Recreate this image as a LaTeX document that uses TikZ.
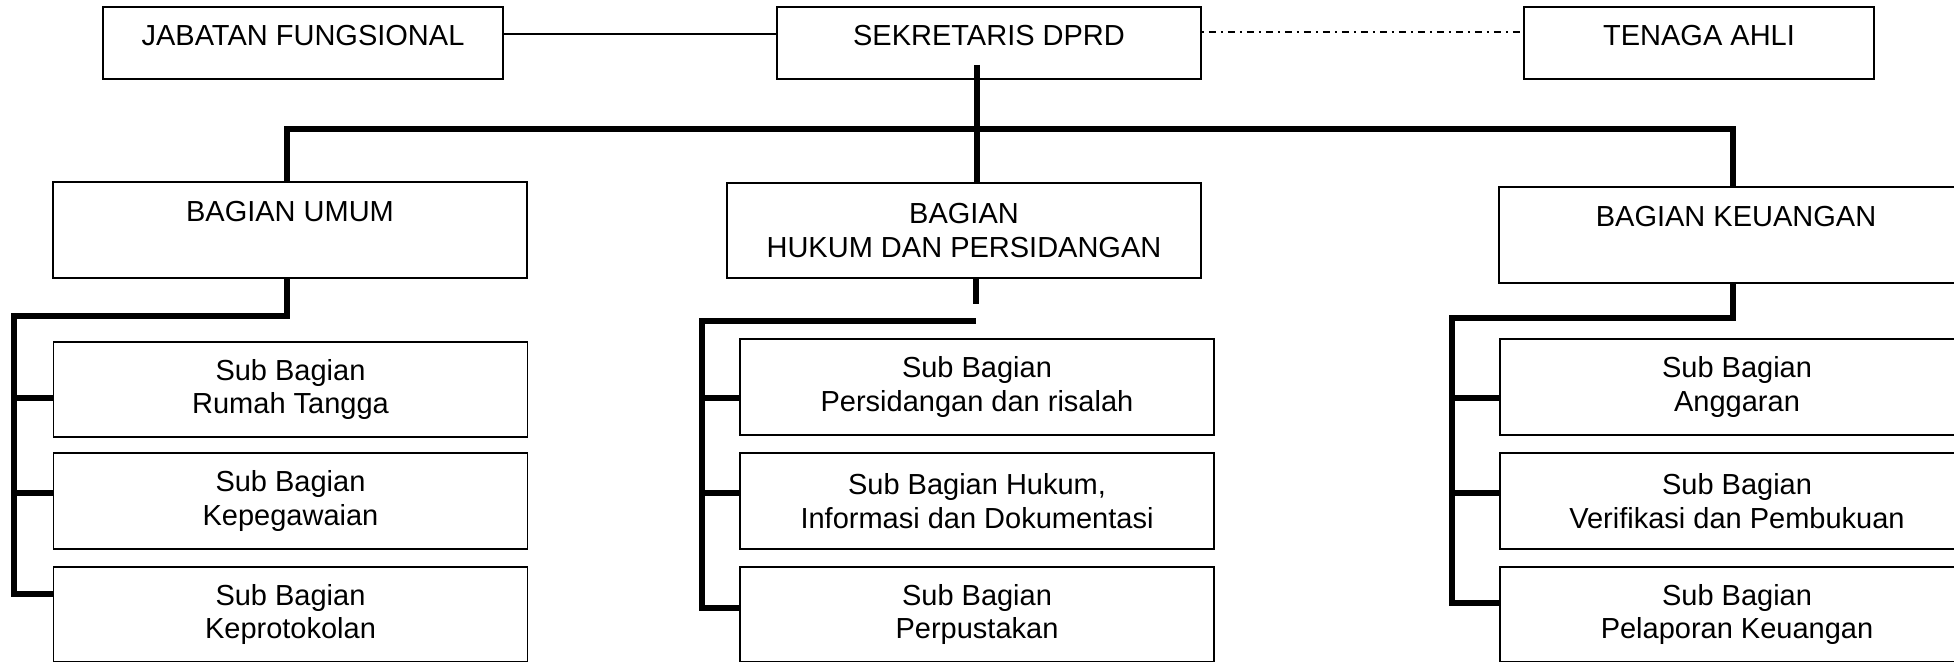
\documentclass[tikz,border=0pt]{standalone}
\usepackage{fontspec}
\setmainfont{Liberation Sans}
\usetikzlibrary{calc}
\begin{document}
\begin{tikzpicture}[x=0.5pt,y=-0.5pt,
  box/.style={draw, line width=0.8pt, inner sep=0pt, align=center,
    font=\fontsize{14.5}{16.8}\selectfont},
  topbox/.style={box, text height=19pt, text depth=17pt},
  headbox/.style={box, minimum width=237pt, text height=19.75pt, text depth=28.25pt},
  subbox/.style={box, minimum width=237pt, minimum height=47.75pt},
  conn/.style={line width=0.65pt},
  dashdotline/.style={line width=0.65pt, dash pattern=on 1pt off 2.5pt on 3.5pt off 2.5pt},
  trunk/.style={line width=3pt}
]
\path[use as bounding box] (0,0) rectangle (1954,661);
\clip (0,0) rectangle (1954,661);

% top row
\node[topbox, minimum width=200pt] (jab) at (303,43) {JABATAN FUNGSIONAL};
\node[topbox, minimum width=212pt] (sek) at (989,43) {SEKRETARIS DPRD};
\node[topbox, minimum width=175pt] (ten) at (1699,43) {TENAGA AHLI};

% bagian
\node[headbox] (bu) at (290,230) {BAGIAN UMUM};
\node[box, minimum width=237pt, minimum height=47.5pt] (bh) at (964,230.5) {BAGIAN\\HUKUM DAN PERSIDANGAN};
\node[headbox] (bk) at (1736,235) {BAGIAN KEUANGAN};

% sub bagian
\node[subbox] (lsub1) at (290.5,389.5) {Sub Bagian\\Rumah Tangga};
\node[subbox] (lsub2) at (290.5,501) {Sub Bagian\\Kepegawaian};
\node[subbox] (lsub3) at (290.5,614.5) {Sub Bagian\\Keprotokolan};

\node[subbox] (msub1) at (977,387) {Sub Bagian\\Persidangan dan risalah};
\node[subbox] (msub2) at (977,501) {Sub Bagian Hukum,\\Informasi dan Dokumentasi};
\node[subbox] (msub3) at (977,614.5) {Sub Bagian\\Perpustakan};

\node[subbox] (rsub1) at (1737,387) {Sub Bagian\\Anggaran};
\node[subbox] (rsub2) at (1737,501) {Sub Bagian\\Verifikasi dan Pembukuan};
\node[subbox] (rsub3) at (1737,614.5) {Sub Bagian\\Pelaporan Keuangan};

% top connectors
\draw[conn] ([yshift=4.5pt]jab.east) -- ([yshift=4.5pt]sek.west);
\draw[dashdotline] ([yshift=5.5pt]sek.east) -- ([yshift=5.5pt]ten.west);

% trunk and bar
\coordinate (t1) at ($(sek.south)+(-12,-15)$);
\coordinate (bar) at ($(t1)+(0,64)$);
\draw[trunk] (t1) -- (t1 |- bh.north);
\draw[trunk] ($(bu.north)+(-3,0)$) |- (bar) -| ($(bk.north)+(-3,0)$);

% left column
\coordinate (lt) at ($(bu.south)+(-276,37)$);
\coordinate (ls1) at ($(lsub1.west)+(0,8.5)$);
\coordinate (ls2) at ($(lsub2.west)+(0,-8)$);
\coordinate (ls3) at ($(lsub3.west)+(0,-20.5)$);
\draw[trunk] ($(bu.south)+(-3,0)$) |- (lt) -- (lt |- ls3) -- (ls3);
\draw[trunk] (ls1) -- (ls1 -| lt);
\draw[trunk] (ls2) -- (ls2 -| lt);

% middle column
\coordinate (mtop) at ($(bh.south)+(12,0)$);
\coordinate (mt) at ($(mtop)+(0,42)$);
\coordinate (ml) at ($(mt)+(-274,0)$);
\coordinate (ms1) at ($(msub1.west)+(0,11)$);
\coordinate (ms2) at ($(msub2.west)+(0,-8)$);
\coordinate (ms3) at ($(msub3.west)+(0,-6.5)$);
\draw[trunk] (mtop) -- ($(mtop)+(0,25)$);
\draw[trunk] (mt) -- (ml) -- (ml |- ms3) -- (ms3);
\draw[trunk] (ms1) -- (ms1 -| ml);
\draw[trunk] (ms2) -- (ms2 -| ml);

% right column
\coordinate (rt) at ($(bk.south)+(-284,34)$);
\coordinate (rs1) at ($(rsub1.west)+(0,11)$);
\coordinate (rs2) at ($(rsub2.west)+(0,-8)$);
\coordinate (rs3) at ($(rsub3.west)+(0,-11.5)$);
\draw[trunk] ($(bk.south)+(-3,0)$) |- (rt) -- (rt |- rs3) -- (rs3);
\draw[trunk] (rs1) -- (rs1 -| rt);
\draw[trunk] (rs2) -- (rs2 -| rt);
\end{tikzpicture}
\end{document}
